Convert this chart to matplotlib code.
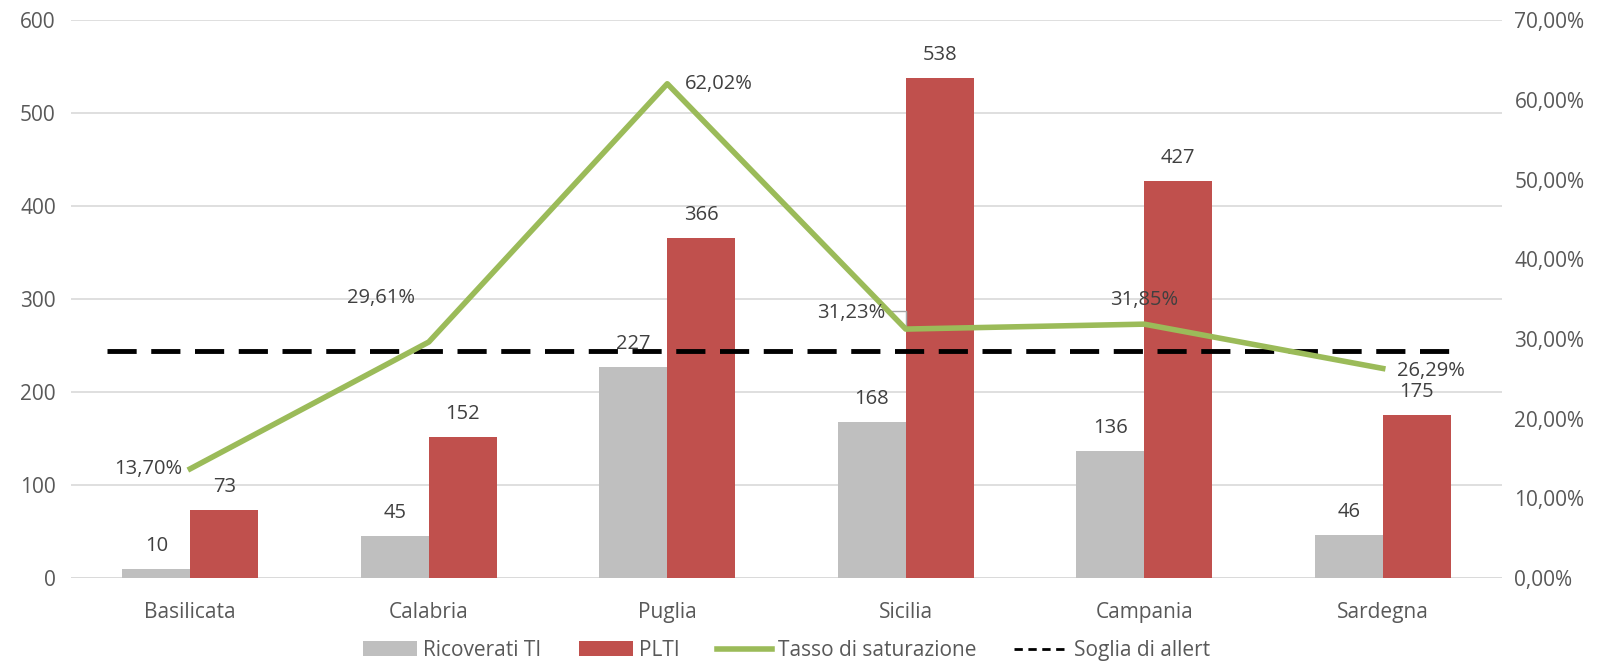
import matplotlib.pyplot as plt
from matplotlib.lines import Line2D
import numpy as np

regioni = ["Basilicata", "Calabria", "Puglia", "Sicilia", "Campania", "Sardegna"]
ricoverati_ti = [10, 45, 227, 168, 136, 46]
pl_ti = [73, 152, 366, 538, 427, 175]
tasso = [0.1370, 0.2961, 0.6202, 0.3123, 0.3185, 0.2629]
soglia = 0.285

GRAY = "#BFBFBF"
RED = "#C0504D"
GREEN = "#9BBB59"
TXT = "#404040"
TICK = "#595959"

plt.rcParams['font.family'] = ['Open Sans', 'DejaVu Sans']

fig = plt.figure(figsize=(15.97, 6.72), dpi=100)
ax = fig.add_axes([0.0445, 0.140, 0.896, 0.830])
ax2 = ax.twinx()

x = np.arange(len(regioni))
w = 0.285
b1 = ax.bar(x - w / 2, ricoverati_ti, w, color=GRAY, label="Ricoverati TI", zorder=2)
b2 = ax.bar(x + w / 2, pl_ti, w, color=RED, label="PLTI", zorder=2)

for bars, vals in ((b1, ricoverati_ti), (b2, pl_ti)):
    for r, v in zip(bars, vals):
        ax.annotate(str(v), (r.get_x() + r.get_width() / 2, v), xytext=(0, 13),
                    textcoords="offset pixels", ha="center", va="bottom",
                    fontsize=14.5, color=TXT)

ax.set_ylim(0, 600)
ax.set_yticks(range(0, 601, 100))
ax.set_xlim(-0.5, 5.5)
ax.set_xticks(x)
ax.set_xticklabels(regioni)
ax.grid(axis="y", color="#D9D9D9", lw=1.2, zorder=0)
ax.set_axisbelow(True)
for s in ax.spines.values():
    s.set_visible(False)
ax.axhline(0, color="#D9D9D9", lw=1.2, zorder=1)
ax.tick_params(axis="both", length=0, labelsize=15, colors=TICK)
ax.tick_params(axis="x", pad=17)
ax.tick_params(axis="y", pad=11)

ln, = ax2.plot(x, tasso, color=GREEN, lw=4, label="Tasso di saturazione", zorder=4)
sg, = ax2.plot([-0.35, 5.31], [soglia, soglia], color="black", lw=3.5,
               dashes=(6, 3), label="Soglia di allert", zorder=3)
ax2.set_ylim(0, 0.70)
ax2.set_yticks(np.arange(0, 0.701, 0.10))
ax2.set_yticklabels([f"{v:.2f}%".replace(".", ",") for v in np.arange(0, 70.01, 10)])
for s in ax2.spines.values():
    s.set_visible(False)
ax2.tick_params(axis="y", length=0, labelsize=15, colors=TICK, pad=9)

# posizione etichette percentuali (offset in pixel)
offs = [(-8, 0, "right"), (-14, 44, "right"), (18, 0, "left"),
        (-20, 16, "right"), (0, 24, "center"), (14, -3, "left")]
for i, (v, (dx, dy, ha)) in enumerate(zip(tasso, offs)):
    ax2.annotate(f"{v * 100:.2f}%".replace(".", ","), (x[i], v), xytext=(dx, dy),
                 textcoords="offset pixels", ha=ha, va="center", fontsize=14.5,
                 color=TXT, zorder=5)

# linea guida per Sicilia
ax2.annotate("", (x[3], tasso[3]), xytext=(-18, 18), textcoords="offset pixels",
             arrowprops=dict(arrowstyle="-", color="#A6A6A6", lw=1,
                             connectionstyle="angle,angleA=0,angleB=90,rad=0"))

sg_leg = Line2D([], [], color="black", lw=2, dashes=(3, 2))
ax.legend(handles=[b1, b2, ln, sg_leg],
          labels=["Ricoverati TI", "PLTI", "Tasso di saturazione", "Soglia di allert"],
          loc="upper center", bbox_to_anchor=(0.5, -0.085),
          ncol=4, frameon=False, fontsize=15, handlelength=2.6, handletextpad=0.3,
          columnspacing=1.8, labelcolor=TICK, borderpad=0.2)

fig.savefig("out.png", dpi=100)
